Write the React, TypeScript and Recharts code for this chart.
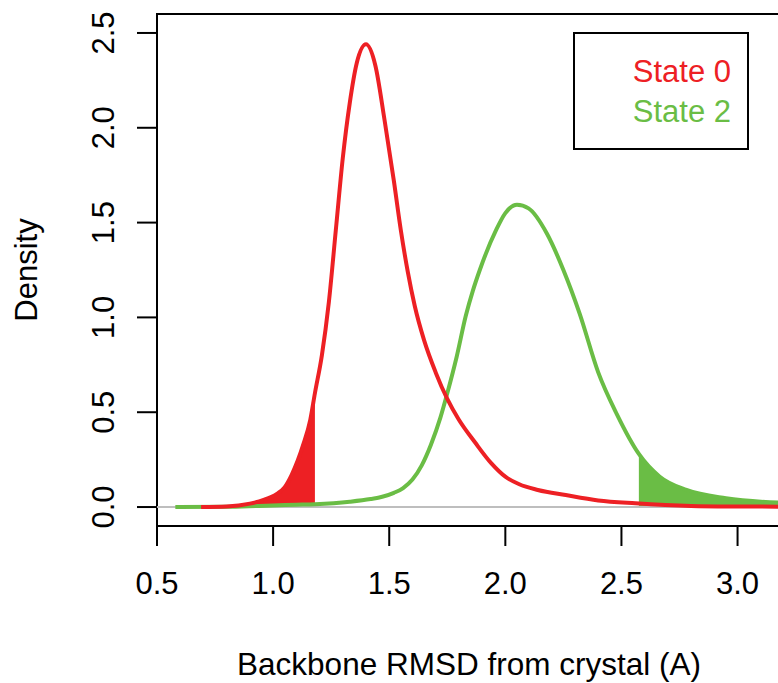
import { Area, ComposedChart, Label, Legend, Line, ReferenceArea, ReferenceLine, XAxis, YAxis } from 'recharts'

// backbone RMSD (A) / density
const state0Rmsd = [0.69, 0.8, 0.9, 0.94, 0.98, 1.02, 1.05, 1.08, 1.13, 1.16, 1.18, 1.21, 1.24, 1.27, 1.3, 1.33, 1.36, 1.4, 1.44, 1.48, 1.52, 1.55, 1.58, 1.61, 1.65, 1.7, 1.75, 1.8, 1.87, 1.94, 2.0, 2.06, 2.14, 2.26, 2.4, 2.56, 2.8, 3.0, 3.2]
const state0Density = [0, 0.003, 0.018, 0.03, 0.047, 0.072, 0.105, 0.17, 0.33, 0.46, 0.6, 0.8, 1.08, 1.46, 1.84, 2.13, 2.34, 2.44, 2.33, 2.04, 1.72, 1.46, 1.24, 1.06, 0.88, 0.71, 0.57, 0.46, 0.34, 0.23, 0.16, 0.12, 0.09, 0.063, 0.035, 0.02, 0.006, 0.003, 0.002]
const state0TailEnd = 1.18

const state2Rmsd = [0.579, 0.8, 0.94, 1.1, 1.18, 1.33, 1.42, 1.47, 1.52, 1.56, 1.6, 1.64, 1.68, 1.72, 1.75, 1.79, 1.83, 1.86, 1.89, 1.96, 2.0, 2.05, 2.1, 2.18, 2.25, 2.32, 2.4, 2.48, 2.575, 2.665, 2.78, 2.95, 3.2]
const state2Density = [0, 0.001, 0.006, 0.012, 0.015, 0.028, 0.042, 0.054, 0.075, 0.1, 0.145, 0.22, 0.33, 0.47, 0.6, 0.79, 1.01, 1.14, 1.25, 1.46, 1.55, 1.594, 1.575, 1.44, 1.25, 1.02, 0.71, 0.49, 0.28, 0.16, 0.09, 0.046, 0.022]
const state2TailStart = 2.575

const xTicks = [0.5, 1.0, 1.5, 2.0, 2.5, 3.0]
const yTicks = [0, 0.5, 1.0, 1.5, 2.0, 2.5]

const RED = '#ED2024'
const GREEN = '#6ABD45'
const FONT = '"Liberation Sans", Arial, Helvetica, sans-serif'

const state0 = state0Rmsd.map((x, i) => ({ x, y: state0Density[i] }))
const state2 = state2Rmsd.map((x, i) => ({ x, y: state2Density[i] }))
const state0Tail = state0.filter(p => p.x <= state0TailEnd)
const state2Tail = state2.filter(p => p.x >= state2TailStart)

const XTick = ({ x, payload }: any) => (
  <text x={x} y={583} textAnchor="middle" dominantBaseline="central" fontSize={31} fontFamily={FONT} fill="#000">
    {Number(payload.value).toFixed(1)}
  </text>
)

const YTick = ({ y, payload }: any) => (
  <text x={104} y={y} transform={`rotate(-90, 104, ${y})`} textAnchor="middle" dominantBaseline="central" fontSize={31} fontFamily={FONT} fill="#000">
    {Number(payload.value).toFixed(1)}
  </text>
)

// R-style legend: text only, right aligned inside a framed box
const LegendBox = ({ payload }: any) => (
  <div style={{
    boxSizing: 'border-box', width: 176, height: 118, border: '2px solid #000', background: '#fff',
    paddingTop: 18, paddingRight: 16, textAlign: 'right', fontFamily: FONT, fontSize: 31, lineHeight: '40px',
  }}>
    {(payload || [])
      .filter((p: any) => p.type !== 'none')
      .sort((a: any, b: any) => String(a.value).localeCompare(String(b.value)))
      .map((p: any) => (
        <div key={p.value} style={{ color: p.color }}>{p.value}</div>
      ))}
  </div>
)

export default function App() {
  return (
    <div style={{ position: 'absolute', left: 0, top: 0, width: 778, height: 683, overflow: 'hidden', background: '#fff' }}>
      <ComposedChart width={800} height={683} margin={{ top: 14, right: 16, bottom: 17, left: 0 }}>
        <XAxis
          type="number" dataKey="x" domain={[0.5, 3.2]} ticks={xTicks} allowDataOverflow
          height={140} axisLine={false} tickSize={20} tickLine={{ stroke: '#000', strokeWidth: 2 }} tick={<XTick />}
        >
          <Label content={() => (
            <text x={469} y={675} textAnchor="middle" fontSize={31.5} fontFamily={FONT} fill="#000">
              Backbone RMSD from crystal (A)
            </text>
          )} />
        </XAxis>
        <YAxis
          type="number" dataKey="y" domain={[-0.1, 2.6]} ticks={yTicks} allowDataOverflow
          width={157} axisLine={false} tickSize={20} tickLine={{ stroke: '#000', strokeWidth: 2 }} tick={<YTick />}
        >
          <Label content={() => (
            <text x={26} y={270} transform="rotate(-90, 26, 270)" textAnchor="middle" dominantBaseline="central" fontSize={31} fontFamily={FONT} fill="#000">
              Density
            </text>
          )} />
        </YAxis>

        <ReferenceLine y={0} stroke="#BEBEBE" strokeWidth={2} />

        <Area data={state0Tail} dataKey="y" type="monotone" baseValue={0} fill={RED} fillOpacity={1} stroke="none" legendType="none" isAnimationActive={false} />
        <Area data={state2Tail} dataKey="y" type="monotone" baseValue={0} fill={GREEN} fillOpacity={1} stroke="none" legendType="none" isAnimationActive={false} />

        <Line data={state2} dataKey="y" name="State 2" type="monotone" stroke={GREEN} strokeWidth={4} dot={false} isAnimationActive={false} />
        <Line data={state0} dataKey="y" name="State 0" type="monotone" stroke={RED} strokeWidth={4} dot={false} isAnimationActive={false} />

        <ReferenceArea x1={0.5} x2={3.2} y1={-0.1} y2={2.6} fill="none" stroke="#000" strokeWidth={2} ifOverflow="visible" />

        <Legend
          layout="vertical" align="center" verticalAlign="middle"
          wrapperStyle={{ left: 573, top: 32, width: 176, height: 118 }}
          content={<LegendBox />}
        />
      </ComposedChart>
    </div>
  )
}
